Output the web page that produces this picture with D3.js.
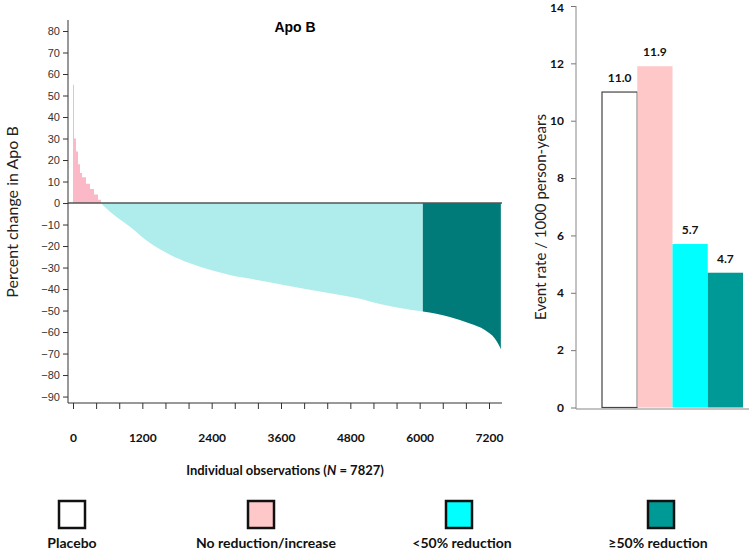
<!DOCTYPE html>
<html><head><meta charset="utf-8">
<script src="https://cdn.jsdelivr.net/npm/d3@7"></script>
<style>body{margin:0;background:#fff}svg{display:block}</style>
</head><body>
<svg id="c" width="750" height="551"></svg>
<script>
// ---- data: left waterfall (observation index, percent change) ----
const pinkPts = [[0,55],[17,30],[52,24],[87,18],[121,14],[156,12],[225,9],[294,6.5],[363,4],[432,1.5],[484,1.5]];
const cyanPts = [[484,0],[519,-1],[640,-4],[986,-11],[1332,-18.6],[1678,-24],[2024,-28],[2370,-31],[2716,-33.5],[3235,-36],[3927,-39.5],[4619,-42.8],[4965,-44.5],[5311,-47],[6055,-50.5]];
const tealPts = [[6055,-50.5],[6522,-53],[6869,-56],[7128,-59],[7301,-63],[7370,-66],[7405,-68]];
const yTicksLeft = d3.range(-90, 81, 10);
const xTicksMinor = d3.range(0, 7201, 400);
const xTickLabels = [0,1200,2400,3600,4800,6000,7200];
// ---- data: right bars ----
const groups = ["Placebo","No reduction/increase","<50% reduction","\u226550% reduction"];
const rates = [11.0, 11.9, 5.7, 4.7];
const rateLabels = ["11.0","11.9","5.7","4.7"];
const yTicksRight = [0,2,4,6,8,10,12,14];
const legendLabels = ["Placebo","No reduction/increase","<50% reduction","\u226550% reduction"];

const svg = d3.select("#c");
const sans = "Lato, 'Open Sans', Arial, sans-serif";

// ===== Left chart =====
const x = d3.scaleLinear().domain([0,7200]).range([73,489]);
const y = d3.scaleLinear().domain([-93,85]).range([403,20.25]);

function seg(pts, color, curve){
  const a = d3.area().x(d=>x(d[0])).y0(y(0)).y1(d=>y(d[1])).curve(curve);
  svg.append("path").attr("d", a(pts)).attr("fill", color);
}
seg(pinkPts, "#fbb8c6", d3.curveStepAfter);
seg(cyanPts, "#afeded", d3.curveMonotoneX);
seg(tealPts, "#007b7a", d3.curveMonotoneX);

// zero line
svg.append("line").attr("x1",68).attr("x2",502).attr("y1",y(0)).attr("y2",y(0))
  .attr("stroke","#555").attr("stroke-width",1.6);

// y axis
const ya = svg.append("g").attr("transform","translate(68,0)")
  .call(d3.axisLeft(y).tickValues(yTicksLeft).tickSize(5).tickPadding(3));
ya.select(".domain").remove();
ya.selectAll(".tick line").attr("stroke","#333");
ya.selectAll(".tick text").attr("font-family","'Liberation Sans Narrow', Arial, sans-serif")
  .attr("font-size",11).attr("fill","#333");
svg.append("line").attr("x1",68).attr("x2",68).attr("y1",20).attr("y2",403).attr("stroke","#333");

// x axis
const xa = svg.append("g").attr("transform","translate(0,403)")
  .call(d3.axisBottom(x).tickValues(xTicksMinor).tickSize(6)
    .tickFormat(d => xTickLabels.includes(d) ? String(d) : "").tickPadding(24));
xa.select(".domain").remove();
xa.selectAll(".tick line").attr("stroke","#333");
xa.selectAll(".tick text").attr("font-family",sans).attr("font-weight","bold")
  .attr("font-size",12).attr("fill","#111");
svg.append("line").attr("x1",68).attr("x2",502).attr("y1",403).attr("y2",403).attr("stroke","#333");

// titles
svg.append("text").attr("x",295).attr("y",32).attr("text-anchor","middle")
  .attr("font-family","Arial, 'Liberation Sans', sans-serif").attr("font-weight","bold").attr("font-size",14)
  .text("Apo B");
svg.append("text").attr("transform","translate(18,212) rotate(-90)").attr("text-anchor","middle")
  .attr("font-family",sans).attr("font-size",16).attr("fill","#222").text("Percent change in Apo B");
const xt = svg.append("text").attr("x",285).attr("y",475).attr("text-anchor","middle")
  .attr("font-family",sans).attr("font-weight","bold").attr("font-size",13).attr("fill","#111");
xt.append("tspan").text("Individual observations (");
xt.append("tspan").attr("font-style","italic").text("N");
xt.append("tspan").text(" = 7827)");

// ===== Right chart =====
const y2 = d3.scaleLinear().domain([0,14]).range([407.5,6]);
const xb = d3.scaleBand().domain(groups).range([602,743]).paddingInner(0);
const fills = ["#ffffff","#ffc8c8","#00ffff","#009a96"];

svg.selectAll("rect.bar").data(groups).join("rect").attr("class","bar")
  .attr("x", d=>xb(d)).attr("width", xb.bandwidth())
  .attr("y", (d,i)=>y2(rates[i])).attr("height",(d,i)=>y2(0)-y2(rates[i]))
  .attr("fill",(d,i)=>fills[i])
  .attr("stroke",(d,i)=> i===0 ? "#444" : "none").attr("stroke-width",1.2);

svg.selectAll("text.val").data(groups).join("text").attr("class","val")
  .attr("x", d=>xb(d)+xb.bandwidth()/2).attr("y",(d,i)=>y2(rates[i])-10)
  .attr("text-anchor","middle").attr("font-family",sans).attr("font-weight","bold")
  .attr("font-size",12).attr("fill","#111").text((d,i)=>rateLabels[i]);

const ya2 = svg.append("g").attr("transform","translate(576,0)")
  .call(d3.axisLeft(y2).tickValues(yTicksRight).tickSize(5).tickPadding(7));
ya2.select(".domain").remove();
ya2.selectAll(".tick line").attr("stroke","#777");
ya2.selectAll(".tick text").attr("font-family",sans).attr("font-weight","bold")
  .attr("font-size",12).attr("fill","#111").attr("dy",d => d===14 ? "0.45em" : "0.32em");
svg.append("line").attr("x1",576).attr("x2",576).attr("y1",6).attr("y2",409).attr("stroke","#888");
svg.append("line").attr("x1",576).attr("x2",749).attr("y1",409).attr("y2",409).attr("stroke","#888").attr("stroke-width",1.2);
svg.append("text").attr("transform","translate(546,217) rotate(-90)").attr("text-anchor","middle")
  .attr("font-family",sans).attr("font-size",15).attr("fill","#222").text("Event rate / 1000 person-years");

// ===== Legend =====
const legX = [72, 261, 459, 661];
const legTX = [72, 266, 462, 658];
legendLabels.forEach((t,i)=>{
  svg.append("rect").attr("x",legX[i]-13).attr("y",501).attr("width",26).attr("height",27)
    .attr("fill",fills[i]).attr("stroke","#111").attr("stroke-width",2.5);
  svg.append("text").attr("x",legTX[i]).attr("y",548).attr("text-anchor","middle")
    .attr("font-family",sans).attr("font-weight","bold").attr("font-size",14).attr("fill","#111").text(t);
});
</script>
</body></html>
